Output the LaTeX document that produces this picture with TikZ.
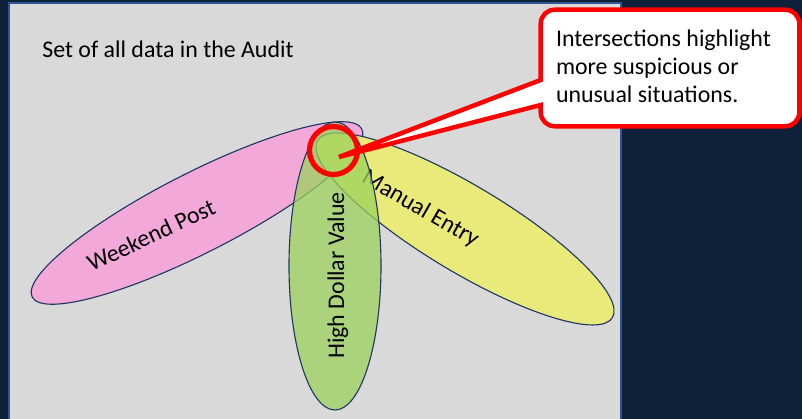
\documentclass[tikz,border=0pt]{standalone}
\usepackage{fontspec}
\setmainfont{Carlito}
\usetikzlibrary{calc,shapes.geometric}
\definecolor{nacht}{HTML}{0E2139}
\definecolor{flaeche}{HTML}{D9D9D9}
\definecolor{rahmen}{HTML}{2F5597}
\definecolor{linie}{HTML}{1F3864}
\definecolor{rosa}{HTML}{F2A8D9}
\definecolor{gelb}{HTML}{EAEA7A}
\definecolor{gruen}{HTML}{9CD25C}
\tikzset{
  menge/.style={ellipse,draw=linie,line width=0.8pt,inner sep=0pt},
  beschr/.style={font=\fontsize{17}{20}\selectfont,inner sep=0pt,anchor=base},
  rot/.style={draw=red,line width=3.2pt},
}

\begin{document}
\begin{tikzpicture}
  \useasboundingbox (0,0) rectangle (20.05,10.475);
  \fill[nacht] (0,0) rectangle (20.05,10.475);
  \filldraw[fill=flaeche,draw=rahmen,line width=1pt] (0.225,-0.2) rectangle (15.525,10.4);
  \node[beschr,anchor=base west] (titel) at (1.05,9.04) {Set of all data in the Audit};
  % drei Mengen, die gruene halb durchsichtig obendrauf
  \node[menge,fill=rosa,minimum width=9.25cm,minimum height=2cm,rotate=27] (wochenende) at (4.925,5.15) {};
  \node[beschr,rotate=25] (wochenendetxt) at (3.86,4.41) {Weekend Post};
  \node[menge,fill=gelb,minimum width=8.6cm,minimum height=2.15cm,rotate=-31] (manuell) at (11.625,4.75) {};
  \node[beschr,rotate=-30] (manuelltxt) at (10.43,5.11) {Manual Entry};
  \node[menge,fill=gruen,fill opacity=0.75,minimum width=2.3cm,minimum height=7.2cm] (betrag) at (8.375,3.825) {};
  \node[beschr,rotate=90] (betragtxt) at (8.6,3.5875) {High Dollar Value};
  % Kreis um die Schnittmenge und Sprechblase
  \node[circle,draw=red,line width=3.7pt,minimum size=1.2cm,inner sep=0pt] (kreis) at (8.3375,6.7125) {};
  \coordinate (spitze) at (8.475,6.55);
  \node[minimum width=6.45cm,minimum height=2.9cm,inner sep=0pt] (notiz) at (16.75,8.775) {};
  \draw[rot,fill=white,line join=miter]
    ($(notiz.west)+(0,-0.3)$) [rounded corners=0.35cm] -- (notiz.north west) -- (notiz.north east)
    -- (notiz.south east) -- (notiz.south west) [sharp corners] -- ($(notiz.west)+(0,-0.925)$)
    -- (spitze) -- cycle;
  \node[beschr,anchor=base west,text width=5.7cm,align=flush left] (notiztxt) at ($(notiz.north west)+(0.375,-0.925)$)
    {Intersections highlight\\ more suspicious or\\ unusual situations.};
\end{tikzpicture}
\end{document}
